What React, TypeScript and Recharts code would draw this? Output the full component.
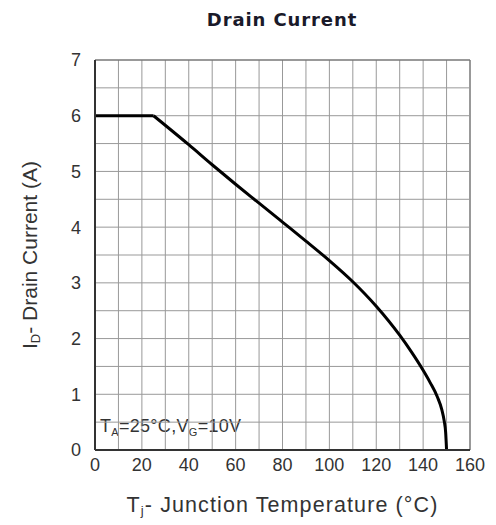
import { LineChart, Line, XAxis, YAxis, ReferenceLine, Label } from 'recharts';

// Drain current derating vs junction temperature
const tempC = [0, 25, 40, 50, 60, 70, 80, 90, 100, 110, 120, 130, 135, 140, 143, 146, 148, 149, 149.6, 150];
const drainA = [6, 6, 5.48, 5.12, 4.77, 4.43, 4.09, 3.75, 3.4, 3.02, 2.58, 2.06, 1.76, 1.43, 1.21, 0.96, 0.72, 0.52, 0.32, 0];
// flat section ends where derating starts
const kneeC = 25;

const xTicks = [0, 20, 40, 60, 80, 100, 120, 140, 160];
const yTicks = [0, 1, 2, 3, 4, 5, 6, 7];
const gridT = [10, 20, 30, 40, 50, 60, 70, 80, 90, 100, 110, 120, 130, 140, 150, 160];
const gridI = [0.5, 1, 1.5, 2, 2.5, 3, 3.5, 4, 4.5, 5, 5.5, 6, 6.5, 7];

const data = tempC.map((t, i) => ({
  t,
  flat: t <= kneeC ? drainA[i] : null,
  derate: t >= kneeC ? drainA[i] : null,
}));

const FONT = '"Liberation Sans", Arial, sans-serif';
const INK = '#333';

function XLabel(props: any) {
  const vb = props.viewBox;
  const cx = vb.x + vb.width / 2;
  return (
    <text x={cx} y={vb.y + vb.height + 2} textAnchor="middle" fontFamily={FONT} fontSize={21.5} fill={INK} letterSpacing={1.1}>
      T<tspan fontSize={13} dy={3}>j</tspan>
      <tspan dy={-3}>- Junction Temperature (°C)</tspan>
    </text>
  );
}

function YLabel(props: any) {
  const vb = props.viewBox;
  const cx = 29;
  const cy = vb.y + vb.height / 2;
  return (
    <text x={cx} y={cy} textAnchor="middle" fontFamily={FONT} fontSize={21} fill={INK} transform={`rotate(-90, ${cx}, ${cy})`}>
      I<tspan fontSize={13} dy={3}>D</tspan>
      <tspan dy={-3}>- Drain Current (A)</tspan>
    </text>
  );
}

export default function App() {
  return (
    <div style={{ position: 'relative', width: 480, height: 510 }}>
      <LineChart width={480} height={510} data={data} margin={{ top: 52, right: 18, left: 0, bottom: 8 }}>
        <text x={274} y={18} textAnchor="middle" fontFamily='"DejaVu Sans", sans-serif' fontSize={18} fontWeight="bold" fill="#1a1a2a" letterSpacing={0.9}>
          Drain Current
        </text>
        <XAxis
          dataKey="t"
          type="number"
          domain={[0, 160]}
          ticks={xTicks}
          tickLine={false}
          axisLine={{ stroke: '#333', strokeWidth: 2 }}
          tick={{ fontFamily: FONT, fontSize: 18, fill: INK }}
          height={60}
        >
          <Label content={XLabel} />
        </XAxis>
        <YAxis
          type="number"
          domain={[0, 7]}
          ticks={yTicks}
          tickLine={false}
          axisLine={{ stroke: '#333', strokeWidth: 2 }}
          tick={{ fontFamily: FONT, fontSize: 18, fill: INK }}
          tickMargin={8}
          width={87}
        >
          <Label content={YLabel} />
        </YAxis>
        {gridT.map((v) => (
          <ReferenceLine key={'t' + v} x={v} stroke={v === 160 ? '#777' : '#999'} strokeWidth={v === 160 ? 1.5 : 1} />
        ))}
        {gridI.map((v) => (
          <ReferenceLine key={'i' + v} y={v} stroke={v === 7 ? '#777' : '#999'} strokeWidth={v === 7 ? 1.5 : 1} />
        ))}
        <text x={92} y={424} fontFamily={FONT} fontSize={18} fill={INK} letterSpacing={0.3}>
          T<tspan fontSize={11} dy={4}>A</tspan>
          <tspan dy={-4}>=25°C,V</tspan>
          <tspan fontSize={11} dy={4}>G</tspan>
          <tspan dy={-4}>=10V</tspan>
        </text>
        <Line type="linear" dataKey="flat" stroke="#000" strokeWidth={3} dot={false} isAnimationActive={false} />
        <Line type="monotone" dataKey="derate" stroke="#000" strokeWidth={3} dot={false} isAnimationActive={false} />
      </LineChart>
    </div>
  );
}
